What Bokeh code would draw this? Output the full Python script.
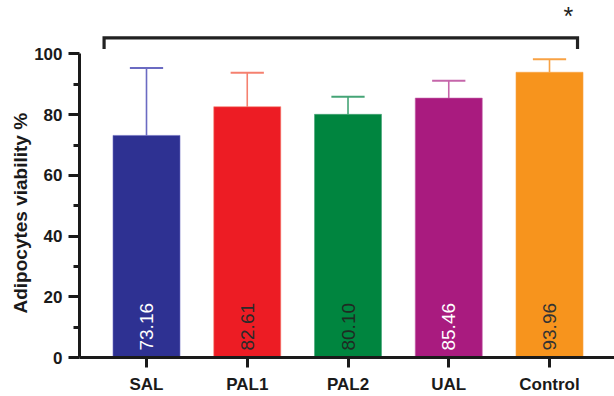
from bokeh.plotting import figure
from bokeh.models import ColumnDataSource, FixedTicker, Range1d, Whisker, Title
from bokeh.core.properties import value
from bokeh.embed import file_html
from bokeh.resources import INLINE
import math

# Adipocyte viability per treatment group (mean and upper SD)
groups = ["SAL", "PAL1", "PAL2", "UAL", "Control"]
viability = [73.16, 82.61, 80.10, 85.46, 93.96]
sd = [22.2, 11.2, 5.8, 5.7, 4.3]
bar_colors = ["#2e3192", "#ed1c24", "#00853f", "#a91b7f", "#f7941d"]
err_colors = ["#6b6bc2", "#f5806f", "#45a476", "#c566aa", "#f8a244"]
label_colors = ["#ffffff", "#2a2a2a", "#1f2a22", "#ffffff", "#333333"]
y_ticks = [0, 20, 40, 60, 80, 100]
y_minor = [10, 30, 50, 70, 90]

xs = list(range(len(groups)))
src = ColumnDataSource(dict(
    x=xs,
    top=viability,
    upper=[v + s for v, s in zip(viability, sd)],
    fill=bar_colors,
    err=err_colors,
    lab=[f"{v:.2f}" for v in viability],
    labcol=label_colors,
))

FONT = "Liberation Sans"

p = figure(width=614, height=396, output_backend="svg", toolbar_location=None,
           x_range=Range1d(-0.665, 4.645), y_range=Range1d(0, 117.6),
           min_border_left=79, min_border_right=0, min_border_top=0,
           min_border_bottom=36)
p.outline_line_color = None
p.xgrid.visible = False
p.ygrid.visible = False
p.background_fill_color = "white"

# bars
p.vbar(x="x", top="top", bottom=0, width=0.665, source=src,
       fill_color="fill", line_color="err", line_width=1, line_alpha=0.6)

# upper error bars
p.add_layout(Whisker(source=src, base="x", upper="upper", lower="top",
                     dimension="height", line_color="err", line_width=1.6,
                     upper_head=None, lower_head=None))
p.segment(x0=[x - 0.165 for x in xs], x1=[x + 0.165 for x in xs],
          y0=src.data["upper"], y1=src.data["upper"],
          line_color=err_colors, line_width=2)

# value labels inside bars
p.text(x="x", y=2.3, text="lab", source=src, angle=math.pi / 2,
       text_align="left", text_baseline="middle", text_color="labcol",
       text_font=value(FONT), text_font_size="19px")

# significance bracket
bx0, bx1, by, bdrop = -0.421, 4.278, 105.3, 101.6
p.line(x=[bx0, bx0, bx1, bx1], y=[bdrop, by, by, bdrop],
       line_color="#222222", line_width=3.2, line_join="miter")
p.text(x=[4.186], y=[112.6], text=["*"], text_align="center",
       text_baseline="middle", text_color="#222222",
       text_font=value(FONT), text_font_size="25px")

# y axis
ya = p.yaxis[0]
ya.bounds = (0, 100)
ya.ticker = FixedTicker(ticks=y_ticks, minor_ticks=y_minor)
ya.axis_line_width = 3
ya.axis_line_color = "#1a1a1a"
ya.major_tick_line_width = 3
ya.minor_tick_line_width = 3
ya.major_tick_line_color = "#1a1a1a"
ya.minor_tick_line_color = "#1a1a1a"
ya.major_tick_out = 11
ya.major_tick_in = 0
ya.minor_tick_out = 6
ya.minor_tick_in = 0
ya.major_label_text_font = FONT
ya.major_label_text_font_style = "bold"
ya.major_label_text_font_size = "17px"
ya.major_label_text_color = "#1a1a1a"
ya.major_label_standoff = 6

# y axis title as a side title, anchored from the bottom of the frame
p.add_layout(Title(text="Adipocytes viability %", align="left", offset=44,
                   text_font=FONT, text_font_style="bold",
                   text_font_size="19px", text_color="#1a1a1a",
                   standoff=2), "left")

# x axis
xa = p.xaxis[0]
xa.ticker = FixedTicker(ticks=xs, minor_ticks=[])
xa.major_label_overrides = {i: g for i, g in enumerate(groups)}
xa.axis_line_width = 3
xa.axis_line_color = "#1a1a1a"
xa.major_tick_line_width = 3
xa.major_tick_line_color = "#1a1a1a"
xa.major_tick_out = 10
xa.major_tick_in = 0
xa.minor_tick_line_color = None
xa.major_label_text_font = FONT
xa.major_label_text_font_style = "bold"
xa.major_label_text_font_size = "17px"
xa.major_label_text_color = "#1a1a1a"
xa.major_label_standoff = 7

open("out.html", "w").write(file_html(p, INLINE))
